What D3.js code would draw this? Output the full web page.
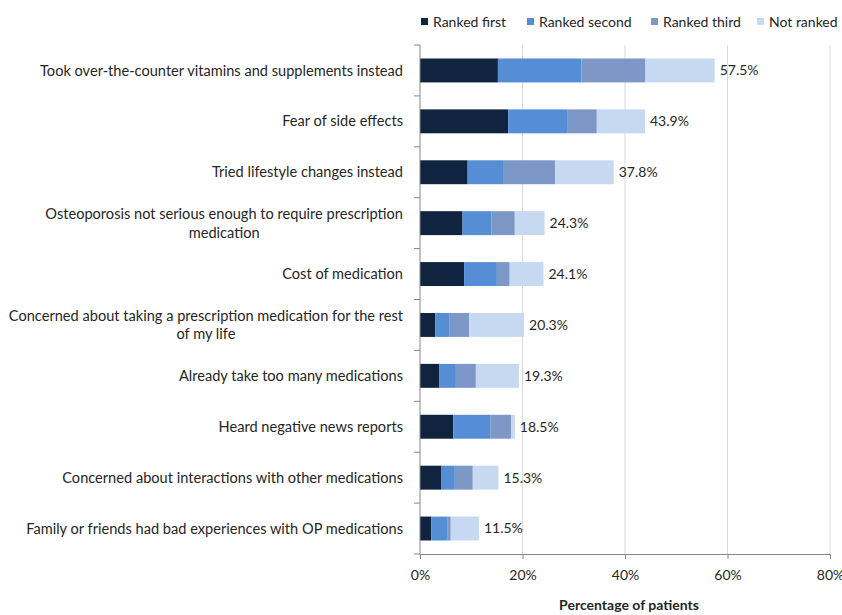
<!DOCTYPE html>
<html>
<head>
<meta charset="utf-8">
<script src="https://cdn.jsdelivr.net/npm/d3@7"></script>
<style>
  body { margin: 0; background: #fff; }
  text { font-family: Lato, "Open Sans", sans-serif; fill: #262626; }
</style>
</head>
<body>
<script>
// data, top to bottom
var categories = [
  ["Took over-the-counter vitamins and supplements instead"],
  ["Fear of side effects"],
  ["Tried lifestyle changes instead"],
  ["Osteoporosis not serious enough to require prescription", "medication"],
  ["Cost of medication"],
  ["Concerned about taking a prescription medication for the rest", "of my life"],
  ["Already take too many medications"],
  ["Heard negative news reports"],
  ["Concerned about interactions with other medications"],
  ["Family or friends had bad experiences with OP medications"]
]
var seriesNames = ["Ranked first", "Ranked second", "Ranked third", "Not ranked"]
var rankedFirst  = [15.2, 17.2, 9.3, 8.3, 8.6, 3.0, 3.8, 6.5, 4.2, 2.2]
var rankedSecond = [16.3, 11.5, 6.9, 5.6, 6.4, 2.8, 3.2, 7.2, 2.6, 3.1]
var rankedThird  = [12.5, 5.8, 10.2, 4.6, 2.5, 3.8, 3.9, 4.1, 3.5, 0.7]
var notRanked    = [13.5, 9.4, 11.4, 5.8, 6.6, 10.7, 8.4, 0.7, 5.0, 5.5]
var totals = [57.5, 43.9, 37.8, 24.3, 24.1, 20.3, 19.3, 18.5, 15.3, 11.5]
var xTicks = [0, 20, 40, 60, 80]
var colors = ["#10233f", "#558ed5", "#7d98c6", "#c6d9f1"]

var W = 842, H = 615
var m = {l: 420, r: 830, t: 45, b: 554}
var fs = "14px"

var svg = d3.select("body").append("svg").attr("width", W).attr("height", H)

var rows = categories.map(function (c, i) {
    return {key: i, label: c, v: [rankedFirst[i], rankedSecond[i], rankedThird[i], notRanked[i]], total: totals[i]}
})

var x = d3.scaleLinear().domain([0, 80]).range([m.l, m.r])
var y = d3.scaleBand().domain(d3.range(rows.length)).range([m.t, m.b])
    .paddingInner(0.53).paddingOuter(0.265)

// grid lines
svg.append("g").selectAll("line")
    .data(xTicks.slice(1))
    .enter().append("line")
    .attr("x1", function (d) { return x(d) }).attr("x2", function (d) { return x(d) })
    .attr("y1", m.t).attr("y2", m.b)
    .style("stroke", "#d9d9d9").style("stroke-width", 1)

// stacked bars
var stack = d3.stack().keys([0, 1, 2, 3]).value(function (d, k) { return d.v[k] })
var layers = stack(rows)
svg.append("g").selectAll("g")
    .data(layers)
    .enter().append("g")
    .attr("fill", function (d, i) { return colors[i] })
    .selectAll("rect")
    .data(function (d) { return d })
    .enter().append("rect")
    .attr("x", function (d) { return x(d[0]) })
    .attr("width", function (d) { return x(d[1]) - x(d[0]) })
    .attr("y", function (d) { return y(d.data.key) })
    .attr("height", y.bandwidth())

// value labels
svg.append("g").selectAll("text")
    .data(rows)
    .enter().append("text")
    .attr("x", function (d) { return x(d.total) + 5 })
    .attr("y", function (d) { return y(d.key) + y.bandwidth() / 2 })
    .attr("dy", "0.35em")
    .style("font-size", fs)
    .text(function (d) { return d.total.toFixed(1) + "%" })

// y axis: line + ticks at band boundaries
var ya = svg.append("g")
ya.append("line")
    .attr("x1", m.l).attr("x2", m.l).attr("y1", m.t).attr("y2", m.b)
    .style("stroke", "#868686")
ya.selectAll(".ytick")
    .data(d3.range(rows.length + 1))
    .enter().append("line")
    .attr("class", "ytick")
    .attr("x1", m.l - 6).attr("x2", m.l)
    .attr("y1", function (k) { return m.t + k * y.step() })
    .attr("y2", function (k) { return m.t + k * y.step() })
    .style("stroke", "#868686")

// category labels (wrapped ones centred under first line)
var labelRight = 403
svg.append("g").selectAll("g")
    .data(rows)
    .enter().append("g")
    .each(function (d) {
        var g = d3.select(this)
        var cy = y(d.key) + y.bandwidth() / 2
        var n = d.label.length
        var lh = 18.5
        var t0 = g.append("text")
            .attr("x", labelRight)
            .attr("y", cy - (n - 1) * lh / 2)
            .attr("dy", "0.35em")
            .attr("text-anchor", "end")
            .style("font-size", "14.6px")
            .text(d.label[0])
        if (n > 1) {
            var w = t0.node().getComputedTextLength()
            g.append("text")
                .attr("x", labelRight - w / 2)
                .attr("y", cy + lh / 2)
                .attr("dy", "0.35em")
                .attr("text-anchor", "middle")
                .style("font-size", "14.6px")
                .text(d.label[1])
        }
    })

// x axis
var xa = svg.append("g")
    .attr("transform", "translate(0," + m.b + ")")
    .call(d3.axisBottom(x).tickValues(xTicks).tickSize(5).tickPadding(11)
        .tickFormat(function (d) { return d + "%" }))
xa.select(".domain").style("stroke", "#868686")
xa.selectAll(".tick line").style("stroke", "#868686")
xa.selectAll(".tick text")
    .style("font-family", "Lato, 'Open Sans', sans-serif")
    .style("font-size", fs).style("fill", "#262626")

svg.append("text")
    .attr("x", (m.l + m.r) / 2 + 4)
    .attr("y", 610)
    .attr("text-anchor", "middle")
    .style("font-size", fs)
    .style("font-weight", "bold")
    .text("Percentage of patients")

// legend
var legendX = [421, 527, 651, 757]
var lg = svg.append("g").selectAll("g")
    .data(seriesNames)
    .enter().append("g")
    .attr("transform", function (d, i) { return "translate(" + legendX[i] + ",0)" })
lg.append("rect")
    .attr("x", 0).attr("y", 18).attr("width", 7).attr("height", 7)
    .attr("fill", function (d, i) { return colors[i] })
lg.append("text")
    .attr("x", 12).attr("y", 22).attr("dy", "0.35em")
    .style("font-size", fs)
    .text(function (d) { return d })
</script>
</body>
</html>
